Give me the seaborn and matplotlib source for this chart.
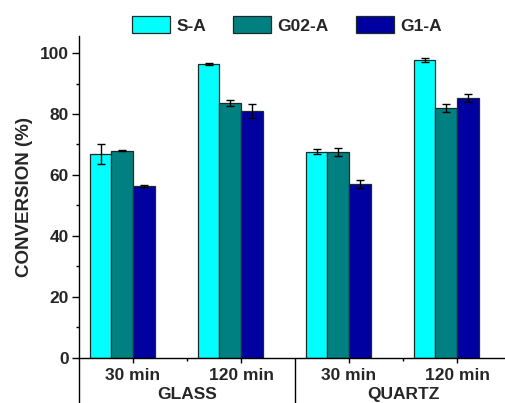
import numpy as np
import pandas as pd
import matplotlib
matplotlib.use("Agg")
import matplotlib.pyplot as plt
import matplotlib.transforms as mtransforms
from matplotlib.lines import Line2D
from matplotlib.ticker import MultipleLocator, FixedLocator
import seaborn as sns

# ---- data ----
conditions = ["GLASS 30", "GLASS 120", "QUARTZ 30", "QUARTZ 120"]
time_labels = ["30 min", "120 min", "30 min", "120 min"]
substrates = ["GLASS", "QUARTZ"]
catalysts = ["S-A", "G02-A", "G1-A"]

sa_mean = [66.8, 96.4, 67.6, 97.8]
sa_err = [3.2, 0.2, 0.9, 0.7]
g02_mean = [68.0, 83.6, 67.5, 82.0]
g02_err = [0.3, 1.0, 1.2, 1.4]
g1_mean = [56.4, 80.9, 57.0, 85.2]
g1_err = [0.3, 2.3, 1.3, 1.4]

colors = ["#00FFFF", "#008080", "#0000A0"]

df = pd.DataFrame({
    "condition": conditions * 3,
    "catalyst": np.repeat(catalysts, len(conditions)),
    "conversion": sa_mean + g02_mean + g1_mean,
    "err": sa_err + g02_err + g1_err,
})

sns.set_style("ticks")
plt.rcParams["font.family"] = ["Liberation Sans", "DejaVu Sans"]
plt.rcParams["font.weight"] = "bold"

fig = plt.figure(figsize=(5.05, 4.03), dpi=100)
ax = fig.add_axes([0.1564, 0.1124, 0.8436, 0.7983])

sns.barplot(data=df, x="condition", y="conversion", hue="catalyst",
            order=conditions, hue_order=catalysts, palette=colors,
            width=0.6, errorbar=None, edgecolor="#1c2a2a", linewidth=0.9,
            saturation=1, ax=ax)

# error bars on top of each bar
for cont, cat in zip(ax.containers, catalysts):
    errs = df[df.catalyst == cat].set_index("condition").loc[conditions, "err"].values
    xs = [b.get_x() + b.get_width() / 2 for b in cont]
    ys = [b.get_height() for b in cont]
    ax.errorbar(xs, ys, yerr=errs, fmt="none", ecolor="black",
                elinewidth=1.0, capsize=3, capthick=1.0, zorder=5)

handles, labels = ax.get_legend_handles_labels()
ax.get_legend().remove()
fig.legend(handles, labels, loc="center", bbox_to_anchor=(0.568, 0.938),
           ncol=3, frameon=False, handlelength=2.2,
           handleheight=1.1, handletextpad=0.35, columnspacing=1.55,
           prop={"weight": "bold", "size": 12.5})

# tick marks sit at the boundary between the 2nd and 3rd bar of each group
shift = 0.1
tick_pos = [i + shift for i in range(len(conditions))]
ax.set_xlim(-0.5 + shift, 3.444 + shift)
ax.set_ylim(0, 105.6)
ax.yaxis.set_major_locator(MultipleLocator(20))
ax.yaxis.set_minor_locator(MultipleLocator(10))
ax.xaxis.set_minor_locator(FixedLocator([0.5 + shift, 2.5 + shift]))
ax.set_xticks(tick_pos)
ax.set_xticklabels(time_labels, fontsize=12.5, fontweight="bold")
for lbl in ax.get_yticklabels():
    lbl.set_fontsize(12.5)
    lbl.set_fontweight("bold")

ax.tick_params(axis="y", which="major", length=5, width=1, pad=2.5, color="black")
ax.tick_params(axis="y", which="minor", length=2.5, width=1, color="black")
ax.tick_params(axis="x", which="major", length=3.6, width=1, pad=4, color="black")
ax.tick_params(axis="x", which="minor", length=2.2, width=1, color="black")

ax.set_xlabel("")
ax.set_ylabel("CONVERSION (%)", fontsize=13.5, fontweight="bold", labelpad=5)

sns.despine(ax=ax)
for s in ("left", "bottom"):
    ax.spines[s].set_linewidth(1.0)
    ax.spines[s].set_color("black")

# group separators and substrate labels below the axis
trans = mtransforms.blended_transform_factory(ax.transData, ax.transAxes)
for xv in (-0.5 + shift, 1.5 + shift):
    ax.add_line(Line2D([xv, xv], [0, -0.16], transform=trans, color="black",
                       linewidth=1.0, clip_on=False))
for xv, name in zip((0.5 + shift, 2.5 + shift), substrates):
    ax.text(xv, -0.115, name, transform=trans, ha="center", va="center",
            fontsize=12.5, fontweight="bold")

fig.savefig("out.png", dpi=100)
